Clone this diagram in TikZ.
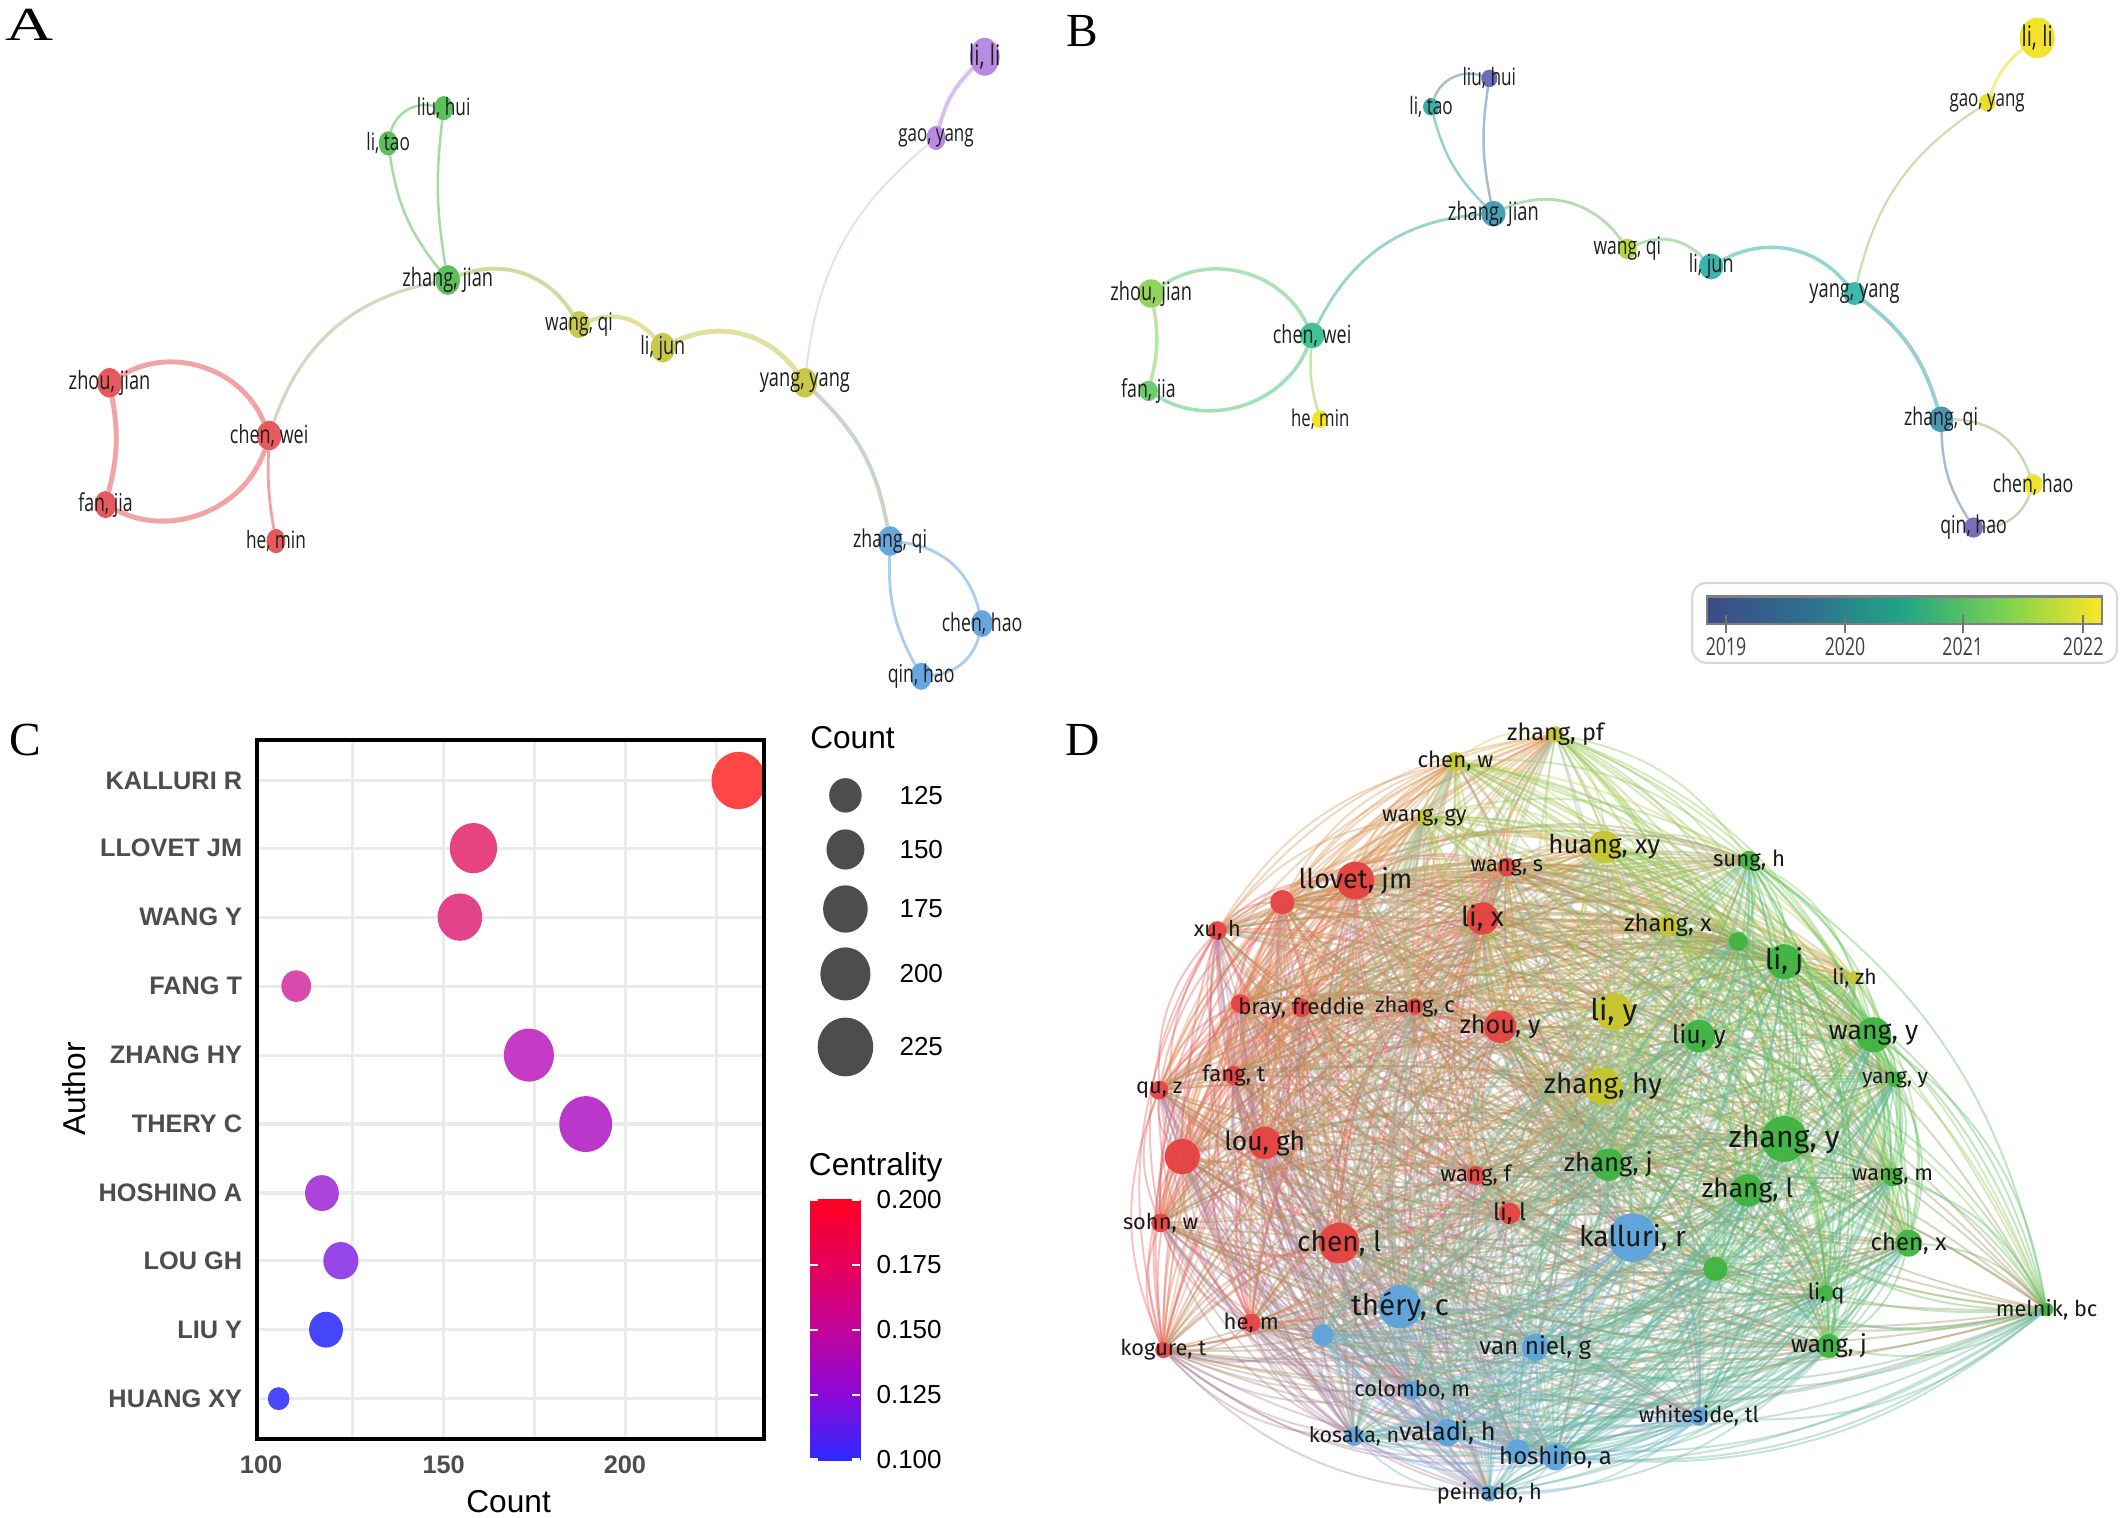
\documentclass[tikz,border=0pt]{standalone}
\usepackage{fontspec}
\setmainfont{Liberation Sans}
\newfontfamily\vosA[FakeStretch=0.72]{Open Sans}
\newfontfamily\vosD{Fira Sans}
\newfontfamily\plotf{Liberation Sans}
\newfontfamily\panelf{Liberation Serif}
\usetikzlibrary{shapes.geometric}
\pgfdeclarelayer{bg}
\pgfdeclarelayer{fg}
\pgfsetlayers{bg,main,fg}
% panel A colours
\definecolor{Ared}{HTML}{E8595B}
\definecolor{Agreen}{HTML}{5CBF5C}
\definecolor{Aolive}{HTML}{C8C84C}
\definecolor{Ablue}{HTML}{68A6DE}
\definecolor{Apurple}{HTML}{B88AE3}
\colorlet{Amixa}{Ared!45!Agreen!70}
\colorlet{Amixb}{Agreen!40!Aolive}
\colorlet{Amixc}{Aolive!50!Apurple!60}
\colorlet{Amixd}{Aolive!50!Ablue}
\definecolor{labc}{HTML}{1E1E1E}
% panel B colours
\definecolor{Bliuhui}{HTML}{6B6DB6}
\definecolor{Blitao}{HTML}{3DAFAA}
\definecolor{Bzhangjian}{HTML}{4A9FB6}
\definecolor{Bwangqi}{HTML}{B3D83C}
\definecolor{Blijun}{HTML}{3BB4AA}
\definecolor{Byangyang}{HTML}{3FB7AB}
\definecolor{Bzhoujian}{HTML}{93D35C}
\definecolor{Bchenwei}{HTML}{3FC294}
\definecolor{Bfanjia}{HTML}{6DCB70}
\definecolor{Bhemin}{HTML}{F1E520}
\definecolor{Bzhangqi}{HTML}{4B97B2}
\definecolor{Bchenhao}{HTML}{EEE42C}
\definecolor{Bqinhao}{HTML}{7A70BA}
\definecolor{Blili}{HTML}{F2E22C}
\definecolor{Bgaoyang}{HTML}{EBDF2B}
\definecolor{vir0}{HTML}{3E4A89}
\definecolor{vir1}{HTML}{2E6F8E}
\definecolor{vir2}{HTML}{22A585}
\definecolor{vir3}{HTML}{7AD151}
\definecolor{vir4}{HTML}{FDE725}
\pgfdeclarehorizontalshading{viridis}{100bp}{color(0bp)=(vir0); color(25bp)=(vir0); color(37.5bp)=(vir1); color(50bp)=(vir2); color(62.5bp)=(vir3); color(75bp)=(vir4); color(100bp)=(vir4)}
% panel C colours
\definecolor{cK}{HTML}{FF4646}
\definecolor{cL}{HTML}{E7437E}
\definecolor{cW}{HTML}{E2438B}
\definecolor{cF}{HTML}{D84BAC}
\definecolor{cZ}{HTML}{C63BC6}
\definecolor{cT}{HTML}{B938CB}
\definecolor{cH}{HTML}{AB45D9}
\definecolor{cLo}{HTML}{9645E6}
\definecolor{cLi}{HTML}{4545FA}
\definecolor{cHu}{HTML}{4848F6}
\definecolor{cgrid}{HTML}{EBEBEB}
\definecolor{axlab}{HTML}{4D4D4D}
\definecolor{legc}{HTML}{4D4D4D}
\definecolor{cen0}{HTML}{2B2BFF}
\definecolor{cen1}{HTML}{8A08DA}
\definecolor{cen2}{HTML}{C2049C}
\definecolor{cen3}{HTML}{E5005A}
\definecolor{cen4}{HTML}{FF0022}
\pgfdeclareverticalshading{centr}{100bp}{color(0bp)=(cen0); color(25bp)=(cen0); color(37.5bp)=(cen1); color(50bp)=(cen2); color(62.5bp)=(cen3); color(75bp)=(cen4); color(100bp)=(cen4)}
% panel D colours
\definecolor{Dr}{HTML}{E5413F}
\definecolor{Dy}{HTML}{C6C52C}
\definecolor{Dg}{HTML}{3EB340}
\definecolor{Db}{HTML}{5CA3DC}

\tikzset{
  every node/.style={inner sep=0pt, outer sep=0pt},
  anode/.style={ellipse, draw=none},
  alab/.style={text=labc},
  dnode/.style={circle, draw=none, fill opacity=0.95},
  dlab/.style={text=black!90},
  dedge/.style={line width=0.55pt, draw opacity=0.38},
  panel/.style={font=\panelf\fontsize{13.5}{14}\selectfont, text=black},
  ylab/.style={font=\plotf\bfseries\fontsize{7.2}{8}\selectfont, text=axlab},
  axt/.style={font=\plotf\fontsize{9}{10}\selectfont, text=black},
  legt/.style={font=\plotf\fontsize{7.4}{8}\selectfont, text=black},
  cgridline/.style={draw=cgrid, line width=0.9pt},
}

\def\Alist{Alili/728/42/22/28/Apurple/{li, li}/8.1,
 Agaoyang/692/102/14/18/Apurple/{gao, yang}/6.7,
 Aliuhui/328/80/14/18/Agreen/{liu, hui}/6.8,
 Alitao/287/106/14/18/Agreen/{li, tao}/6.8,
 Azhangjian/331/207/18/22/Agreen/{zhang, jian}/7.2,
 Awangqi/428/240/16/20/Aolive/{wang, qi}/6.9,
 Alijun/490/257/18/22/Aolive/{li, jun}/7.1,
 Ayangyang/595/283/18/22/Aolive/{yang, yang}/7.2,
 Azhoujian/81/283/18/22/Ared/{zhou, jian}/7.2,
 Achenwei/199/322/18/22/Ared/{chen, wei}/7.1,
 Afanjia/78/373/16/20/Ared/{fan, jia}/7.0,
 Ahemin/204/400/14/18/Ared/{he, min}/6.8,
 Azhangqi/658/400/18/22/Ablue/{zhang, qi}/7.0,
 Achenhao/726/461/16/20/Ablue/{chen, hao}/7.0,
 Aqinhao/681/500/16/20/Ablue/{qin, hao}/7.0}

\def\Blist{Blili/1506/28/26/30/{li, li}/8.1,
 Bgaoyang/1469/76/12/13/{gao, yang}/6.7,
 Bliuhui/1101/58/12/13/{liu, hui}/6.8,
 Blitao/1058/79/12/13/{li, tao}/6.8,
 Bzhangjian/1104/158/18/19/{zhang, jian}/7.2,
 Bwangqi/1203/184/14/15/{wang, qi}/6.9,
 Blijun/1265/197/18/19/{li, jun}/7.1,
 Byangyang/1371/217/16/17/{yang, yang}/7.2,
 Bzhoujian/851/217/20/21/{zhou, jian}/7.2,
 Bchenwei/970/248/18/19/{chen, wei}/7.1,
 Bfanjia/849/289/14/15/{fan, jia}/7.0,
 Bhemin/976/310/12/13/{he, min}/6.6,
 Bzhangqi/1435/310/18/19/{zhang, qi}/7.0,
 Bchenhao/1503/358/14/15/{chen, hao}/7.0,
 Bqinhao/1459/390/14/15/{qin, hao}/7.0}

\def\Dlist{Dllovet/1002/651/14/Dr/{llovet, jm}/7.7,
 Dura/948/667/9/Dr/{}/6,
 Dlix/1096/679/12/Dr/{li, x}/7.8,
 Dxuh/900/688/7/Dr/{xu, h}/6.2,
 Dwangs/1114/641/7/Dr/{wang, s}/6.2,
 Dbray/962/745/7/Dr/{bray, freddie}/6.3,
 Durb/917/742/7/Dr/{}/6,
 Dzhangc/1046/744/6/Dr/{zhang, c}/6.2,
 Dzhouy/1109/759/12/Dr/{zhou, y}/7.2,
 Dfangt/912/795/7/Dr/{fang, t}/6.3,
 Dquz/857/806/7/Dr/{qu, z}/6.2,
 Dlougk/935/845/12/Dr/{lou, gh}/7.5,
 Durc/874/855/13/Dr/{}/6,
 Dwangf/1091/869/7/Dr/{wang, f}/6.3,
 Dlil/1116/897/8/Dr/{li, l}/6.8,
 Dsohn/858/904/7/Dr/{sohn, w}/6.2,
 Dchenl/990/919/15/Dr/{chen, l}/8.0,
 Dhem/925/978/7/Dr/{he, m}/6.3,
 Dkogure/860/998/6/Dr/{kogure, t}/6.2,
 Dzhangpf/1150/543/6/Dy/{zhang, pf}/6.7,
 Dchenw/1076/563/7/Dy/{chen, w}/6.3,
 Dwanggy/1053/604/6/Dy/{wang, gy}/6.2,
 Dhuang/1186/626/12/Dy/{huang, xy}/7.4,
 Dzhangx/1233/684/8/Dy/{zhang, x}/6.8,
 Dlizh/1371/723/5/Dy/{li, zh}/6.0,
 Dliy/1193/748/14/Dy/{li, y}/8.5,
 Dzhanghy/1185/803/14/Dy/{zhang, hy}/7.9,
 Dsung/1293/636/7/Dg/{sung, h}/6.3,
 Duga/1285/696/7/Dg/{}/6,
 Dlij/1319/711/13/Dg/{li, j}/8.0,
 Dliuy/1256/766/12/Dg/{liu, y}/7.1,
 Dwangy/1385/765/13/Dg/{wang, y}/7.6,
 Dyangy/1401/798/6/Dg/{yang, y}/6.0,
 Dzhangy/1319/842/17/Dg/{zhang, y}/8.6,
 Dzhangj/1189/861/12/Dg/{zhang, j}/7.3,
 Dwangm/1399/870/7/Dg/{wang, m}/6.2,
 Dzhangl/1292/880/12/Dg/{zhang, l}/7.5,
 Dchenx/1411/919/10/Dg/{chen, x}/6.8,
 Dugb/1268/938/9/Dg/{}/6,
 Dliq/1350/956/6/Dg/{li, q}/6.2,
 Dmelnik/1513/968/5/Dg/{melnik, bc}/6.2,
 Dwangj/1352/995/9/Dg/{wang, j}/6.9,
 Dkalluri/1207/915/18/Db/{kalluri, r}/8.1,
 Dthery/1035/966/16/Db/{théry, c}/8.4,
 Duba/978/987/8/Db/{}/6,
 Dvanniel/1135/996/10/Db/{van niel, g}/6.9,
 Dcolombo/1044/1028/7/Db/{colombo, m}/6.2,
 Dwhiteside/1256/1047/7/Db/{whiteside, tl}/6.2,
 Dkosaka/1001/1062/7/Db/{kosaka, n}/6.1,
 Dvaladi/1070/1059/10/Db/{valadi, h}/7.2,
 Dubb/1122/1073/9/Db/{}/6,
 Dhoshino/1150/1077/10/Db/{hoshino, a}/6.8,
 Dpeinado/1101/1104/6/Db/{peinado, h}/6.2}

\begin{document}
\begin{tikzpicture}[x=0.0135268cm, y=0.0135268cm]
\def\pxu{0.3849pt}
\useasboundingbox (0,0) rectangle (1568,-1122);
\begin{pgfonlayer}{bg}
\fill[white] (0,0) rectangle (1568,-1122);
\end{pgfonlayer}

% ---------------- panel letters
\node[panel, xscale=1.4] (pA) at (22,-18) {A};
\node[panel] (pB) at (800,-23) {B};
\node[panel] (pC) at (19,-547) {C};
\node[panel] (pD) at (800,-547) {D};

% ---------------- panel A
\foreach \n/\x/\y/\w/\h/\c/\t/\s in \Alist {
  \node[anode, fill=\c, minimum width=\w*\pxu, minimum height=\h*\pxu] (\n) at (\x,-\y) {};
}
\begin{pgfonlayer}{fg}
\foreach \n/\x/\y/\w/\h/\c/\t/\s in \Alist {
  \node[alab, font=\vosA\fontsize{\s}{\s}\selectfont] (\n-t) at (\n) {\t};
}
\end{pgfonlayer}
\begin{pgfonlayer}{bg}
\foreach \a/\b/\bd/\col/\lw in {
  Azhoujian/Achenwei/50/Ared/1.4, Azhoujian/Afanjia/12/Ared/1.4,
  Afanjia/Achenwei/-50/Ared/1.4, Achenwei/Ahemin/-6/Ared/0.8,
  Achenwei/Azhangjian/30/Amixa/0.9, Azhangjian/Alitao/15/Agreen/0.7,
  Azhangjian/Aliuhui/8/Agreen/0.7, Alitao/Aliuhui/45/Agreen/0.7,
  Azhangjian/Awangqi/40/Amixb/1.1, Awangqi/Alijun/35/Aolive/1.2,
  Alijun/Ayangyang/40/Aolive/1.4, Ayangyang/Agaoyang/22/Amixc/0.6,
  Agaoyang/Alili/15/Apurple/1.1, Ayangyang/Azhangqi/18/Amixd/1.1,
  Azhangqi/Aqinhao/-15/Ablue/0.8, Azhangqi/Achenhao/35/Ablue/0.8,
  Achenhao/Aqinhao/35/Ablue/0.8}{
  \draw[draw=\col!55, line width=\lw pt] (\a) to[bend left=\bd] (\b);
}
\end{pgfonlayer}

% ---------------- panel B
\foreach \n/\x/\y/\w/\h/\t/\s in \Blist {
  \node[anode, fill=\n, minimum width=\w*\pxu, minimum height=\h*\pxu] (\n) at (\x,-\y) {};
}
\begin{pgfonlayer}{fg}
\foreach \n/\x/\y/\w/\h/\t/\s in \Blist {
  \node[alab, font=\vosA\fontsize{\s}{\s}\selectfont] (\n-t) at (\n) {\t};
}
\end{pgfonlayer}
\begin{pgfonlayer}{bg}
\foreach \a/\b/\bd/\lw in {
  Bzhoujian/Bchenwei/50/1.0, Bzhoujian/Bfanjia/12/1.0,
  Bfanjia/Bchenwei/-50/1.0, Bchenwei/Bhemin/-10/0.7,
  Bchenwei/Bzhangjian/30/0.8, Bzhangjian/Blitao/15/0.7,
  Bzhangjian/Bliuhui/10/0.7, Blitao/Bliuhui/45/0.7,
  Bzhangjian/Bwangqi/40/0.8, Bwangqi/Blijun/35/0.8,
  Blijun/Byangyang/40/1.0, Byangyang/Bgaoyang/22/0.6,
  Bgaoyang/Blili/15/0.9, Byangyang/Bzhangqi/18/1.1,
  Bzhangqi/Bqinhao/-15/0.7, Bzhangqi/Bchenhao/35/0.7,
  Bchenhao/Bqinhao/35/0.7}{
  \draw[draw=\a!50!\b!55, line width=\lw pt] (\a) to[bend left=\bd] (\b);
}
\end{pgfonlayer}
% year legend
\draw[draw=black!15, line width=0.6pt, rounded corners=4pt] (1251,-431) rectangle (1565,-490);
\node[shade, shading=viridis, draw=black!50, line width=0.6pt, minimum width=292*\pxu, minimum height=20*\pxu] (ybar) at (1408,-451) {};
\foreach \xx/\yr in {1276/2019, 1364/2020, 1451/2021, 1540/2022}{
  \draw[draw=black!55, line width=0.6pt] (\xx,-455) -- (\xx,-468);
  \node[font=\vosA\fontsize{7}{8}\selectfont, text=black!75] (yr\yr) at (\xx,-478) {\yr};
}

% ---------------- panel C
\begin{pgfonlayer}{bg}
\foreach \v in {125,150,175,200,225}{
  \pgfmathsetmacro\gx{193.5+(\v-100)*2.69}
  \draw[cgridline] (\gx,-548) -- (\gx,-1063);
}
\end{pgfonlayer}
\foreach \lab/\y/\x/\r/\c [count=\k] in {KALLURI R/577/546/20/cK, LLOVET JM/627/350/17.5/cL,
  WANG Y/678/340/16.5/cW, FANG T/729/219/11/cF, ZHANG HY/780/391/18.5/cZ,
  THERY C/831/433/19.5/cT, HOSHINO A/882/238/12.5/cH, LOU GH/932/252/13/cLo,
  LIU Y/983/241/12.5/cLi, HUANG XY/1034/206/8/cHu}{
  \begin{pgfonlayer}{bg}
  \draw[cgridline] (191,-\y) -- (564,-\y);
  \end{pgfonlayer}
  \node[ylab, anchor=east] (Cl\k) at (179,-\y) {\lab};
  \node[ellipse, fill=\c, minimum width=2*\r*\pxu, minimum height=2.12*\r*\pxu] (Cb\k) at (\x,-\y) {};
}
\draw[line width=1.1pt] (190,-547) rectangle (565,-1064);
\node[ylab] (Cx1) at (193,-1083) {100};
\node[ylab] (Cx2) at (328,-1083) {150};
\node[ylab] (Cx3) at (462,-1083) {200};
\node[axt] (Cxt) at (376,-1110) {Count};
\node[axt, rotate=90] (Cyt) at (55,-805) {Author};
% size legend
\node[axt, anchor=west] (Clt) at (599,-545) {Count};
\foreach \y/\r/\v [count=\k] in {588/12/125, 628/14/150, 672/16.5/175, 720/18.5/200, 774/20.5/225}{
  \node[ellipse, fill=legc, minimum width=2*\r*\pxu, minimum height=2.12*\r*\pxu] (Cs\k) at (625,-\y) {};
  \node[legt, anchor=west] (Csl\k) at (665,-\y) {\v};
}
% centrality legend
\node[axt, anchor=west] (Cct) at (598,-863) {Centrality};
\node[shade, shading=centr, minimum width=37*\pxu, minimum height=193*\pxu] (cbar) at (617.5,-983.5) {};
\foreach \y/\v in {887/0.200, 935/0.175, 983/0.150, 1031/0.125, 1079/0.100}{
  \draw[white, line width=0.6pt] (599,-\y) -- (605,-\y) (630,-\y) -- (636,-\y);
  \node[legt, anchor=west] (Cc\v) at (648,-\y) {\v};
}

% ---------------- panel D
\foreach \n/\x/\y/\r/\c/\t/\s in \Dlist {
  \node[dnode, fill=\c, minimum size=2*\r*\pxu] (\n) at (\x,-\y) {};
}
\begin{pgfonlayer}{fg}
\foreach \n/\x/\y/\r/\c/\t/\s in \Dlist {
  \node[dlab, font=\vosD\fontsize{\s}{\s}\selectfont] (\n-t) at (\n) {\t};
}
\end{pgfonlayer}
\begin{pgfonlayer}{bg}
\foreach \na/\xa/\ya/\ra/\ca/\ta/\sa [count=\i] in \Dlist {
  \foreach \nb/\xb/\yb/\rb/\cb/\tb/\sb [count=\j] in \Dlist {
    \ifnum\j>\i
      \ifnum\numexpr\ra+\rb\relax>11
        \edef\crs{\the\numexpr(\xa-1180)*(\yb-830)-(\ya-830)*(\xb-1180)\relax}%
        \edef\ddx{\the\numexpr\xb-\xa\relax}%
        \edef\ddy{\the\numexpr\yb-\ya\relax}%
        \ifnum\ddx<0 \edef\ddx{\the\numexpr-\ddx\relax}\fi
        \ifnum\ddy<0 \edef\ddy{\the\numexpr-\ddy\relax}\fi
        \ifnum\crs<0 \edef\crsa{\the\numexpr-\crs\relax}\else\edef\crsa{\crs}\fi
        \ifnum\crsa>\numexpr 60*(\ddx+\ddy)\relax
          \ifnum\crs>0
            \def\bdir{1}%
          \else
            \def\bdir{-1}%
          \fi
        \else
          \ifodd\numexpr\i+\j\relax \def\bdir{1}\else\def\bdir{-1}\fi
        \fi
        \draw[dedge, draw=\ca!50!\cb!85] (\na) to[bend left=\bdir*22] (\nb);
      \fi
    \fi
  }
}
\end{pgfonlayer}
\end{tikzpicture}
\end{document}
